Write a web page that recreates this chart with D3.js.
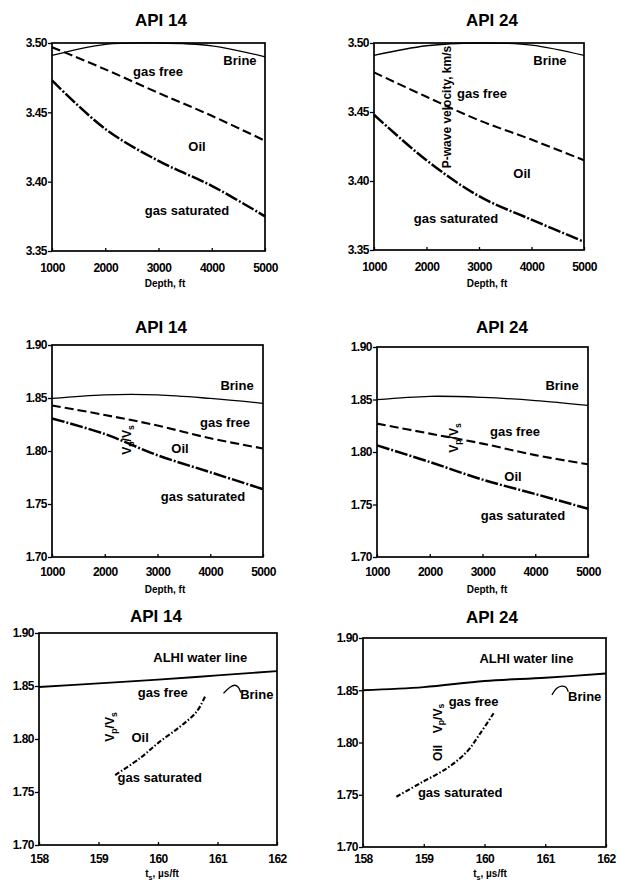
<!DOCTYPE html>
<html>
<head>
<meta charset="utf-8">
<script src="https://cdn.jsdelivr.net/npm/d3@7.9.0/dist/d3.min.js"></script>
<style>
  html, body { margin: 0; padding: 0; background: #fff; }
  svg { display: block; font-family: "Liberation Sans", Arial, sans-serif; }
</style>
</head>
<body>
<svg id="chart" width="619" height="883"></svg>
<script>
// ---- data ----
const depthFt = [1000, 2000, 3000, 4000, 5000];
const depthTicks = [1000, 2000, 3000, 4000, 5000];
const vpTicks = [3.35, 3.40, 3.45, 3.50];
const vpvsTicks = [1.70, 1.75, 1.80, 1.85, 1.90];
const tsTicks = [158, 159, 160, 161, 162];

// P-wave velocity (km/s) vs depth
const vpBrine14 = [3.491, 3.499, 3.500, 3.498, 3.490];
const vpGasFree14 = [3.497, 3.481, 3.464, 3.4475, 3.4295];
const vpGasSat14 = [3.473, 3.438, 3.415, 3.397, 3.375];
const vpBrine24 = [3.491, 3.498, 3.500, 3.4985, 3.491];
const vpGasFree24 = [3.4787, 3.461, 3.444, 3.430, 3.415];
const vpGasSat24 = [3.448, 3.415, 3.389, 3.372, 3.356];

// Vp/Vs vs depth
const vpvsBrine14 = [1.8496, 1.853, 1.853, 1.8496, 1.845];
const vpvsGasFree14 = [1.843, 1.834, 1.824, 1.812, 1.8024];
const vpvsGasSat14 = [1.8307, 1.816, 1.796, 1.780, 1.764];
const vpvsBrine24 = [1.8498, 1.853, 1.852, 1.849, 1.8444];
const vpvsGasFree24 = [1.827, 1.8175, 1.808, 1.797, 1.7883];
const vpvsGasSat24 = [1.8063, 1.7905, 1.7737, 1.760, 1.746];

// Vp/Vs vs shear slowness ts (us/ft)
const tsAlhi = [158, 159, 160, 161, 162];
const vpvsAlhi14 = [1.849, 1.8525, 1.856, 1.860, 1.864];
const vpvsAlhi24 = [1.850, 1.853, 1.8589, 1.862, 1.866];
const tsOil14 = [159.28, 159.70, 160.03, 160.37, 160.65, 160.79];
const vpvsOil14 = [1.766, 1.782, 1.7975, 1.8116, 1.8258, 1.840];
const tsOil24 = [158.55, 158.94, 159.38, 159.71, 159.93, 160.15];
const vpvsOil24 = [1.7481, 1.761, 1.7753, 1.7912, 1.8088, 1.828];
const tsBrine14 = [161.10, 161.21, 161.29, 161.35, 161.39];
const vpvsTsBrine14 = [1.843, 1.8488, 1.8507, 1.8488, 1.8437];
const tsBrine24 = [161.11, 161.19, 161.27, 161.34, 161.38];
const vpvsTsBrine24 = [1.8455, 1.8518, 1.854, 1.8528, 1.8486];

// ---- line styles ----
const styles = {
  brine:   { w: 1.3, dash: null },
  gasFree: { w: 2.1, dash: "9,4" },
  gasSat:  { w: 2.5, dash: "13,2,2,2" },
  alhi:    { w: 1.9, dash: null },
  oil:     { w: 2.1, dash: "5,2,1.5,2" }
};

const zip = (xs, ys) => xs.map((x, i) => [x, ys[i]]);

// ---- panel layout ----
const panels = [
  { box: [52, 265, 43, 251], tp: 12, xd: [1000, 5000], yd: [3.35, 3.50], xt: depthTicks, yt: vpTicks,
    title: "API 14", tx: 161, ty: 26, xl: "Depth, ft", xlx: 165, xly: 287,
    series: [[depthFt, vpBrine14, "brine"], [depthFt, vpGasFree14, "gasFree"], [depthFt, vpGasSat14, "gasSat"]],
    labels: [["Brine", 4530, 3.4841], ["gas free", 2991, 3.4762], ["Oil", 3723, 3.4221], ["gas saturated", 3535, 3.376]] },
  { box: [374, 584, 43, 250], tp: 12, xd: [1000, 5000], yd: [3.35, 3.50], xt: depthTicks, yt: vpTicks,
    title: "API 24", tx: 492, ty: 26, xl: "Depth, ft", xlx: 487, xly: 287,
    series: [[depthFt, vpBrine24, "brine"], [depthFt, vpGasFree24, "gasFree"], [depthFt, vpGasSat24, "gasSat"]],
    labels: [["Brine", 4352, 3.484], ["gas free", 3057, 3.460], ["Oil", 3819, 3.402], ["gas saturated", 2562, 3.3696],
             ["P-wave velocity, km/s", 2390, 3.4536, true]] },
  { box: [52, 263, 345, 557], tp: 10.5, xd: [1000, 5000], yd: [1.70, 1.90], xt: depthTicks, yt: vpvsTicks,
    title: "API 14", tx: 161, ty: 333, xl: "Depth, ft", xlx: 165, xly: 593,
    series: [[depthFt, vpvsBrine14, "brine"], [depthFt, vpvsGasFree14, "gasFree"], [depthFt, vpvsGasSat14, "gasSat"]],
    labels: [["Brine", 4507, 1.8575], ["gas free", 4280, 1.8226], ["Oil", 3427, 1.798], ["gas saturated", 3863, 1.7528],
             ["V_p/V_s", 2422, 1.8104, true]] },
  { box: [377, 588, 347, 557], tp: 10.5, xd: [1000, 5000], yd: [1.70, 1.90], xt: depthTicks, yt: vpvsTicks,
    title: "API 24", tx: 502, ty: 333, xl: "Depth, ft", xlx: 487, xly: 593,
    series: [[depthFt, vpvsBrine24, "brine"], [depthFt, vpvsGasFree24, "gasFree"], [depthFt, vpvsGasSat24, "gasSat"]],
    labels: [["Brine", 4507, 1.859], ["gas free", 3616, 1.8152], ["Oil", 3578, 1.7724], ["gas saturated", 3768, 1.7352],
             ["V_p/V_s", 2460, 1.8133, true]] },
  { box: [39, 277, 633, 845], tp: 9, xd: [158, 162], yd: [1.70, 1.90], xt: tsTicks, yt: vpvsTicks,
    title: "API 14", tx: 156, ty: 622, xl: "t_s, \u00b5s/ft", xlx: 162, xly: 877,
    series: [[tsAlhi, vpvsAlhi14, "alhi"], [tsOil14, vpvsOil14, "oil"], [tsBrine14, vpvsTsBrine14, "brine"]],
    labels: [["ALHI water line", 160.71, 1.8726], ["gas free", 160.08, 1.8396], ["Brine", 161.66, 1.8377],
             ["Oil", 159.70, 1.7972], ["gas saturated", 160.03, 1.7594], ["V_p/V_s", 159.19, 1.8113, true]] },
  { box: [363, 606, 638, 847], tp: 7.5, xd: [158, 162], yd: [1.70, 1.90], xt: tsTicks, yt: vpvsTicks,
    title: "API 24", tx: 492, ty: 623, xl: "t_s, \u00b5s/ft", xlx: 490, xly: 877,
    series: [[tsAlhi, vpvsAlhi24, "alhi"], [tsOil24, vpvsOil24, "oil"], [tsBrine24, vpvsTsBrine24, "brine"]],
    labels: [["ALHI water line", 160.69, 1.8758], ["gas free", 159.82, 1.8349], ["Brine", 161.65, 1.840],
             ["gas saturated", 159.60, 1.7476], ["V_p/V_s", 159.23, 1.823, true], ["Oil", 159.23, 1.790, true]] }
];

const svg = d3.select("#chart");
svg.append("rect").attr("width", 619).attr("height", 883).attr("fill", "#fff");

// writes "V_p" style text with subscripts as tspans
function richText(sel, str, size) {
  const parts = str.split(/(_.)/).filter(s => s.length);
  let shifted = false;
  parts.forEach(p => {
    const t = sel.append("tspan");
    if (p[0] === "_") {
      t.text(p[1]).attr("font-size", size * 0.72).attr("dy", 2.5);
      shifted = true;
    } else {
      t.text(p);
      if (shifted) { t.attr("dy", -2.5); shifted = false; }
    }
  });
}

panels.forEach(p => {
  const [x0, x1, y0, y1] = p.box;
  const x = d3.scaleLinear().domain(p.xd).range([x0, x1]);
  const y = d3.scaleLinear().domain(p.yd).range([y1, y0]);
  const g = svg.append("g");

  // curves
  const line = d3.line().x(d => x(d[0])).y(d => y(d[1])).curve(d3.curveCatmullRom.alpha(0.5));
  p.series.forEach(([xs, ys, kind]) => {
    const st = styles[kind];
    g.append("path")
      .attr("d", line(zip(xs, ys)))
      .attr("fill", "none")
      .attr("stroke", "#000")
      .attr("stroke-width", st.w)
      .attr("stroke-dasharray", st.dash);
  });

  // frame
  g.append("rect")
    .attr("x", x0).attr("y", y0)
    .attr("width", x1 - x0).attr("height", y1 - y0)
    .attr("fill", "none").attr("stroke", "#000").attr("stroke-width", 1.7);

  // axes
  const yAxis = d3.axisLeft(y).tickValues(p.yt).tickFormat(d3.format(".2f"))
    .tickSizeInner(4).tickSizeOuter(0).tickPadding(1);
  const xAxis = d3.axisBottom(x).tickValues(p.xt).tickFormat(d3.format("d"))
    .tickSizeInner(-3).tickSizeOuter(0).tickPadding(p.tp);
  [[yAxis, `translate(${x0},0)`], [xAxis, `translate(0,${y1})`]].forEach(([ax, tr]) => {
    const a = g.append("g").attr("transform", tr).call(ax);
    a.select(".domain").remove();
    a.selectAll("line").attr("stroke", "#000").attr("stroke-width", 1.3);
    a.selectAll("text")
      .attr("fill", "#000")
      .attr("font-family", "'Liberation Sans', Arial, sans-serif")
      .attr("font-size", 12).attr("font-weight", "bold")
      .attr("letter-spacing", -0.5);
  });

  // title
  g.append("text").attr("x", p.tx).attr("y", p.ty)
    .attr("text-anchor", "middle").attr("font-size", 17).attr("font-weight", "bold")
    .text(p.title);

  // x axis label
  const xl = g.append("text").attr("x", p.xlx).attr("y", p.xly)
    .attr("text-anchor", "middle").attr("font-size", 10).attr("font-weight", "bold");
  richText(xl, p.xl, 10);

  // curve labels
  p.labels.forEach(([txt, lx, ly, rot]) => {
    const t = g.append("text").attr("font-weight", "bold").attr("text-anchor", "middle");
    if (rot) {
      t.attr("transform", `translate(${x(lx)},${y(ly)}) rotate(-90)`)
        .attr("dy", "0.35em").attr("font-size", 12);
      richText(t, txt, 12);
    } else {
      t.attr("x", x(lx)).attr("y", y(ly)).attr("font-size", 13);
      richText(t, txt, 13);
    }
  });
});
</script>
</body>
</html>
